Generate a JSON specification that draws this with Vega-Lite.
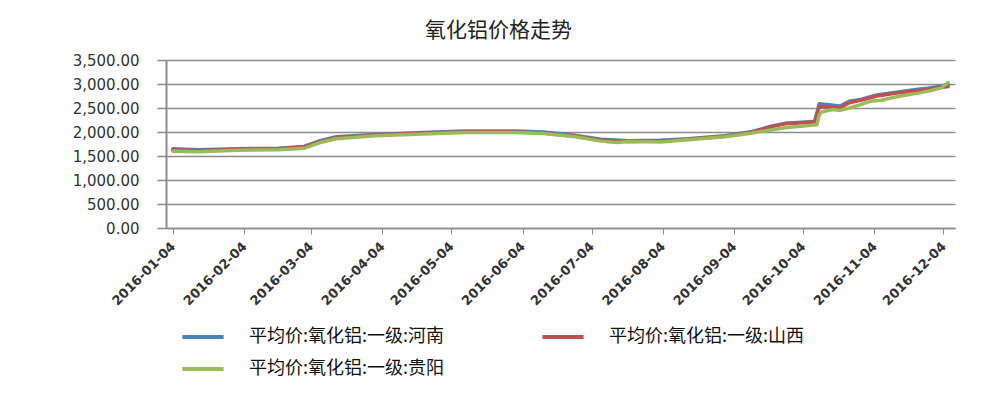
{
  "$schema": "https://vega.github.io/schema/vega-lite/v6.json",
  "width": 789,
  "height": 168,
  "autosize": {"type": "none"},
  "padding": {"left": 166, "top": 60, "right": 33, "bottom": 173},
  "background": "white",
  "title": {"text": "氧化铝价格走势", "fontSize": 21, "font": "Noto Sans CJK SC", "fontWeight": "normal", "color": "#222222", "anchor": "middle", "frame": "group", "offset": 12, "dx": -62},
  "data": {"values": [
    {"date": "2016-01-04", "series": "平均价:氧化铝:一级:河南", "price": 1650},
    {"date": "2016-01-15", "series": "平均价:氧化铝:一级:河南", "price": 1630},
    {"date": "2016-02-01", "series": "平均价:氧化铝:一级:河南", "price": 1650},
    {"date": "2016-02-19", "series": "平均价:氧化铝:一级:河南", "price": 1660},
    {"date": "2016-03-01", "series": "平均价:氧化铝:一级:河南", "price": 1700},
    {"date": "2016-03-08", "series": "平均价:氧化铝:一级:河南", "price": 1820},
    {"date": "2016-03-15", "series": "平均价:氧化铝:一级:河南", "price": 1900},
    {"date": "2016-04-01", "series": "平均价:氧化铝:一级:河南", "price": 1950},
    {"date": "2016-04-22", "series": "平均价:氧化铝:一级:河南", "price": 1990},
    {"date": "2016-05-10", "series": "平均价:氧化铝:一级:河南", "price": 2020},
    {"date": "2016-06-01", "series": "平均价:氧化铝:一级:河南", "price": 2020},
    {"date": "2016-06-13", "series": "平均价:氧化铝:一级:河南", "price": 2000},
    {"date": "2016-06-27", "series": "平均价:氧化铝:一级:河南", "price": 1930},
    {"date": "2016-07-08", "series": "平均价:氧化铝:一级:河南", "price": 1850},
    {"date": "2016-07-20", "series": "平均价:氧化铝:一级:河南", "price": 1820},
    {"date": "2016-08-03", "series": "平均价:氧化铝:一级:河南", "price": 1830},
    {"date": "2016-08-15", "series": "平均价:氧化铝:一级:河南", "price": 1860},
    {"date": "2016-08-31", "series": "平均价:氧化铝:一级:河南", "price": 1920},
    {"date": "2016-09-12", "series": "平均价:氧化铝:一级:河南", "price": 2010},
    {"date": "2016-09-20", "series": "平均价:氧化铝:一级:河南", "price": 2120},
    {"date": "2016-09-26", "series": "平均价:氧化铝:一级:河南", "price": 2180},
    {"date": "2016-10-09", "series": "平均价:氧化铝:一级:河南", "price": 2220},
    {"date": "2016-10-11", "series": "平均价:氧化铝:一级:河南", "price": 2590},
    {"date": "2016-10-20", "series": "平均价:氧化铝:一级:河南", "price": 2540},
    {"date": "2016-10-24", "series": "平均价:氧化铝:一级:河南", "price": 2640},
    {"date": "2016-10-29", "series": "平均价:氧化铝:一级:河南", "price": 2680},
    {"date": "2016-11-05", "series": "平均价:氧化铝:一级:河南", "price": 2770},
    {"date": "2016-11-15", "series": "平均价:氧化铝:一级:河南", "price": 2840},
    {"date": "2016-11-23", "series": "平均价:氧化铝:一级:河南", "price": 2890},
    {"date": "2016-11-27", "series": "平均价:氧化铝:一级:河南", "price": 2910},
    {"date": "2016-12-02", "series": "平均价:氧化铝:一级:河南", "price": 2950},
    {"date": "2016-12-06", "series": "平均价:氧化铝:一级:河南", "price": 2990},

    {"date": "2016-01-04", "series": "平均价:氧化铝:一级:山西", "price": 1630},
    {"date": "2016-01-15", "series": "平均价:氧化铝:一级:山西", "price": 1610},
    {"date": "2016-02-01", "series": "平均价:氧化铝:一级:山西", "price": 1640},
    {"date": "2016-02-19", "series": "平均价:氧化铝:一级:山西", "price": 1650},
    {"date": "2016-03-01", "series": "平均价:氧化铝:一级:山西", "price": 1690},
    {"date": "2016-03-08", "series": "平均价:氧化铝:一级:山西", "price": 1800},
    {"date": "2016-03-15", "series": "平均价:氧化铝:一级:山西", "price": 1880},
    {"date": "2016-04-01", "series": "平均价:氧化铝:一级:山西", "price": 1940},
    {"date": "2016-04-22", "series": "平均价:氧化铝:一级:山西", "price": 1980},
    {"date": "2016-05-10", "series": "平均价:氧化铝:一级:山西", "price": 2000},
    {"date": "2016-06-01", "series": "平均价:氧化铝:一级:山西", "price": 2000},
    {"date": "2016-06-13", "series": "平均价:氧化铝:一级:山西", "price": 1980},
    {"date": "2016-06-27", "series": "平均价:氧化铝:一级:山西", "price": 1910},
    {"date": "2016-07-08", "series": "平均价:氧化铝:一级:山西", "price": 1830},
    {"date": "2016-07-20", "series": "平均价:氧化铝:一级:山西", "price": 1800},
    {"date": "2016-08-03", "series": "平均价:氧化铝:一级:山西", "price": 1810},
    {"date": "2016-08-15", "series": "平均价:氧化铝:一级:山西", "price": 1850},
    {"date": "2016-08-31", "series": "平均价:氧化铝:一级:山西", "price": 1910},
    {"date": "2016-09-12", "series": "平均价:氧化铝:一级:山西", "price": 2000},
    {"date": "2016-09-20", "series": "平均价:氧化铝:一级:山西", "price": 2110},
    {"date": "2016-09-26", "series": "平均价:氧化铝:一级:山西", "price": 2170},
    {"date": "2016-10-09", "series": "平均价:氧化铝:一级:山西", "price": 2210},
    {"date": "2016-10-11", "series": "平均价:氧化铝:一级:山西", "price": 2530},
    {"date": "2016-10-20", "series": "平均价:氧化铝:一级:山西", "price": 2500},
    {"date": "2016-10-24", "series": "平均价:氧化铝:一级:山西", "price": 2610},
    {"date": "2016-10-29", "series": "平均价:氧化铝:一级:山西", "price": 2660},
    {"date": "2016-11-05", "series": "平均价:氧化铝:一级:山西", "price": 2750},
    {"date": "2016-11-15", "series": "平均价:氧化铝:一级:山西", "price": 2820},
    {"date": "2016-11-23", "series": "平均价:氧化铝:一级:山西", "price": 2860},
    {"date": "2016-11-27", "series": "平均价:氧化铝:一级:山西", "price": 2880},
    {"date": "2016-12-02", "series": "平均价:氧化铝:一级:山西", "price": 2920},
    {"date": "2016-12-06", "series": "平均价:氧化铝:一级:山西", "price": 2950},

    {"date": "2016-01-04", "series": "平均价:氧化铝:一级:贵阳", "price": 1600},
    {"date": "2016-01-15", "series": "平均价:氧化铝:一级:贵阳", "price": 1590},
    {"date": "2016-02-01", "series": "平均价:氧化铝:一级:贵阳", "price": 1620},
    {"date": "2016-02-19", "series": "平均价:氧化铝:一级:贵阳", "price": 1630},
    {"date": "2016-03-01", "series": "平均价:氧化铝:一级:贵阳", "price": 1660},
    {"date": "2016-03-08", "series": "平均价:氧化铝:一级:贵阳", "price": 1780},
    {"date": "2016-03-15", "series": "平均价:氧化铝:一级:贵阳", "price": 1860},
    {"date": "2016-04-01", "series": "平均价:氧化铝:一级:贵阳", "price": 1920},
    {"date": "2016-04-22", "series": "平均价:氧化铝:一级:贵阳", "price": 1960},
    {"date": "2016-05-10", "series": "平均价:氧化铝:一级:贵阳", "price": 1990},
    {"date": "2016-06-01", "series": "平均价:氧化铝:一级:贵阳", "price": 1990},
    {"date": "2016-06-13", "series": "平均价:氧化铝:一级:贵阳", "price": 1970},
    {"date": "2016-06-27", "series": "平均价:氧化铝:一级:贵阳", "price": 1900},
    {"date": "2016-07-08", "series": "平均价:氧化铝:一级:贵阳", "price": 1810},
    {"date": "2016-07-15", "series": "平均价:氧化铝:一级:贵阳", "price": 1780},
    {"date": "2016-07-20", "series": "平均价:氧化铝:一级:贵阳", "price": 1800},
    {"date": "2016-08-03", "series": "平均价:氧化铝:一级:贵阳", "price": 1790},
    {"date": "2016-08-15", "series": "平均价:氧化铝:一级:贵阳", "price": 1840},
    {"date": "2016-08-31", "series": "平均价:氧化铝:一级:贵阳", "price": 1900},
    {"date": "2016-09-12", "series": "平均价:氧化铝:一级:贵阳", "price": 1980},
    {"date": "2016-09-26", "series": "平均价:氧化铝:一级:贵阳", "price": 2090},
    {"date": "2016-10-10", "series": "平均价:氧化铝:一级:贵阳", "price": 2150},
    {"date": "2016-10-11", "series": "平均价:氧化铝:一级:贵阳", "price": 2360},
    {"date": "2016-10-12", "series": "平均价:氧化铝:一级:贵阳", "price": 2420},
    {"date": "2016-10-17", "series": "平均价:氧化铝:一级:贵阳", "price": 2470},
    {"date": "2016-10-20", "series": "平均价:氧化铝:一级:贵阳", "price": 2450},
    {"date": "2016-10-24", "series": "平均价:氧化铝:一级:贵阳", "price": 2500},
    {"date": "2016-10-29", "series": "平均价:氧化铝:一级:贵阳", "price": 2570},
    {"date": "2016-11-02", "series": "平均价:氧化铝:一级:贵阳", "price": 2640},
    {"date": "2016-11-07", "series": "平均价:氧化铝:一级:贵阳", "price": 2660},
    {"date": "2016-11-12", "series": "平均价:氧化铝:一级:贵阳", "price": 2720},
    {"date": "2016-11-19", "series": "平均价:氧化铝:一级:贵阳", "price": 2780},
    {"date": "2016-11-23", "series": "平均价:氧化铝:一级:贵阳", "price": 2810},
    {"date": "2016-11-29", "series": "平均价:氧化铝:一级:贵阳", "price": 2870},
    {"date": "2016-12-03", "series": "平均价:氧化铝:一级:贵阳", "price": 2920},
    {"date": "2016-12-06", "series": "平均价:氧化铝:一级:贵阳", "price": 3030}
  ]},
  "mark": {"type": "line", "strokeWidth": 3.5, "strokeJoin": "round", "strokeCap": "round"},
  "encoding": {
    "x": {
      "field": "date",
      "type": "temporal",
      "scale": {"type": "utc", "domain": [{"year": 2016, "month": 1, "date": 1, "utc": true}, {"year": 2016, "month": 12, "date": 9, "utc": true}]},
      "axis": {
        "title": null,
        "values": [
          {"year": 2016, "month": 1, "date": 4, "utc": true},
          {"year": 2016, "month": 2, "date": 4, "utc": true},
          {"year": 2016, "month": 3, "date": 4, "utc": true},
          {"year": 2016, "month": 4, "date": 4, "utc": true},
          {"year": 2016, "month": 5, "date": 4, "utc": true},
          {"year": 2016, "month": 6, "date": 4, "utc": true},
          {"year": 2016, "month": 7, "date": 4, "utc": true},
          {"year": 2016, "month": 8, "date": 4, "utc": true},
          {"year": 2016, "month": 9, "date": 4, "utc": true},
          {"year": 2016, "month": 10, "date": 4, "utc": true},
          {"year": 2016, "month": 11, "date": 4, "utc": true},
          {"year": 2016, "month": 12, "date": 4, "utc": true}
        ],
        "format": "%Y-%m-%d",
        "labelAngle": -45,
        "labelAlign": "right",
        "labelBaseline": "middle",
        "labelFont": "DejaVu Sans",
        "labelFontSize": 13,
        "labelFontWeight": "bold",
        "labelColor": "#333333",
        "labelPadding": 10,
        "labelOverlap": false,
        "labelFlush": false,
        "grid": false,
        "domainColor": "#8c8c8c",
        "domainWidth": 1.5,
        "tickColor": "#8c8c8c",
        "tickSize": 6
      }
    },
    "y": {
      "field": "price",
      "type": "quantitative",
      "scale": {"domain": [0, 3500], "nice": false},
      "axis": {
        "title": null,
        "values": [0, 500, 1000, 1500, 2000, 2500, 3000, 3500],
        "format": ",.2f",
        "labelFont": "DejaVu Sans",
        "labelFontSize": 15,
        "labelColor": "#333333",
        "labelPadding": 18,
        "gridColor": "#8c8c8c",
        "gridWidth": 1.5,
        "domainColor": "#8c8c8c",
        "domainWidth": 2,
        "tickColor": "#8c8c8c",
        "tickWidth": 1.5,
        "tickSize": 9
      }
    },
    "color": {
      "field": "series",
      "type": "nominal",
      "scale": {
        "domain": ["平均价:氧化铝:一级:河南", "平均价:氧化铝:一级:山西", "平均价:氧化铝:一级:贵阳"],
        "range": ["#4F81BD", "#C0504D", "#9BBB59"]
      },
      "legend": {
        "title": null,
        "orient": "none",
        "legendX": 14,
        "legendY": 254,
        "direction": "horizontal",
        "columns": 2,
        "columnPadding": 89,
        "rowPadding": 0,
        "symbolType": "stroke",
        "symbolSize": 1700,
        "symbolStrokeWidth": 4,
        "labelFont": "Noto Sans CJK SC",
        "labelFontSize": 18,
        "labelColor": "#111111",
        "labelOffset": 23,
        "labelLimit": 400
      }
    }
  },
  "config": {"view": {"stroke": null}}
}
